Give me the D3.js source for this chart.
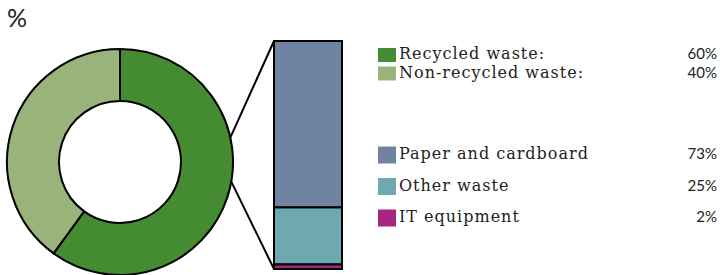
<!DOCTYPE html>
<html lang="en">
<head>
    <meta charset="UTF-8">
    <script src="https://cdnjs.cloudflare.com/ajax/libs/d3/7.8.5/d3.min.js"></script>
    <style>
        body { margin: 0; background: #fff; }
        svg { display: block; }
        .lbl { font-family: 'DejaVu Serif', serif; font-size: 16px; letter-spacing: 1px; fill: #222; }
        .val { font-family: Lato, sans-serif; font-size: 15px; fill: #222; }
    </style>
    <title>Waste</title>
</head>
<body>
<script>
    // donut data
    const pieLabels = ['Recycled waste:', 'Non-recycled waste:']
    const pieValues = [60, 40]
    const pieColors = ['rgb(69, 139, 50)', 'rgb(152, 180, 122)']
    // stacked bar data
    const barLabels = ['Paper and cardboard', 'Other waste', 'IT equipment']
    const barValues = [73, 25, 2]
    const barColors = ['rgb(112, 131, 163)', 'rgb(111, 169, 176)', 'rgb(165, 37, 128)']

    const width = 720, height = 275
    const cx = 120, cy = 162, outerR = 113, innerR = 61

    const svg = d3.select('body').append('svg')
        .attr('width', width)
        .attr('height', height)

    //unit
    svg.append('text')
        .attr('x', 7)
        .attr('y', 27)
        .style('font-family', 'Lato, sans-serif')
        .style('font-size', '25px')
        .style('fill', '#222')
        .text('%')

    //Donut
    const pie = d3.pie().sort(null).startAngle(0).endAngle(2 * Math.PI)
    const arc = d3.arc().innerRadius(innerR).outerRadius(outerR)
    svg.append('g')
        .attr('transform', `translate(${cx},${cy})`)
        .selectAll('path')
        .data(pie(pieValues))
        .enter()
        .append('path')
        .attr('d', arc)
        .style('fill', (d, i) => pieColors[i])
        .style('stroke', '#000')
        .style('stroke-width', 2)

    //Bar
    const barX = 274, barW = 68
    const yScale = d3.scaleLinear().domain([0, d3.sum(barValues)]).range([41, 269])
    const stacked = barValues.map((v, i) => ({ v, i, start: d3.sum(barValues.slice(0, i)) }))

    //connector lines
    const upper = -12.5 * Math.PI / 180, lower = 10 * Math.PI / 180
    const pt = a => [cx + outerR * Math.cos(a), cy + outerR * Math.sin(a)]
    svg.append('line')
        .attr('x1', pt(upper)[0]).attr('y1', pt(upper)[1])
        .attr('x2', barX).attr('y2', yScale(0))
        .style('stroke', '#000').style('stroke-width', 2)
    svg.append('line')
        .attr('x1', pt(lower)[0]).attr('y1', pt(lower)[1])
        .attr('x2', barX).attr('y2', yScale(100))
        .style('stroke', '#000').style('stroke-width', 2)

    svg.append('g').selectAll('rect')
        .data(stacked)
        .enter()
        .append('rect')
        .attr('x', barX)
        .attr('y', d => yScale(d.start))
        .attr('width', barW)
        .attr('height', d => yScale(d.start + d.v) - yScale(d.start))
        .style('fill', d => barColors[d.i])
        .style('stroke', '#000')
        .style('stroke-width', 2)

    //Legend
    const lx = 378, tx = 399, vx = 717
    const topRows = pieLabels.map((l, i) => ({ l, v: pieValues[i], c: pieColors[i], y: 59 + 18.5 * i }))
    const botRows = barLabels.map((l, i) => ({ l, v: barValues[i], c: barColors[i], y: 159 + 31.5 * i }))

    const addRows = (rows, sh) => {
        const g = svg.append('g')
        const row = g.selectAll('g').data(rows).enter().append('g')
        row.append('rect')
            .attr('x', lx)
            .attr('y', d => d.y - 11 - (sh - 14) / 2)
            .attr('width', 18)
            .attr('height', sh)
            .style('fill', d => d.c)
        row.append('text')
            .attr('class', 'lbl')
            .attr('x', tx)
            .attr('y', d => d.y)
            .text(d => d.l)
        row.append('text')
            .attr('class', 'val')
            .attr('x', vx)
            .attr('y', d => d.y)
            .attr('text-anchor', 'end')
            .text(d => d.v + '%')
    }
    addRows(topRows, 14)
    addRows(botRows, 17)
</script>
</body>
</html>
